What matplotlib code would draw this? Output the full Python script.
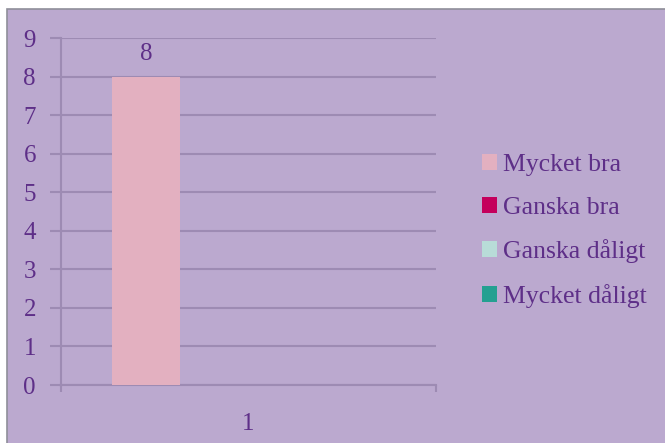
import matplotlib
matplotlib.use("Agg")
import matplotlib.pyplot as plt
from matplotlib.patches import Rectangle, Patch

# data
categories = ["1"]
series = ["Mycket bra", "Ganska bra", "Ganska dåligt", "Mycket dåligt"]
values = [8, 0, 0, 0]
colors = ["#e3b0c0", "#c4005c", "#b8dcd8", "#24a091"]

bg = "#bba9cf"
txt = "#5e2f88"
grid = "#9d8bb3"

plt.rcParams["font.family"] = ["Liberation Serif", "DejaVu Serif"]

fig = plt.figure(figsize=(6.65, 4.43), dpi=100)
fig.patch.set_facecolor("white")
# chart area, runs off the right and bottom edge
fig.add_artist(Rectangle((7 / 665, -0.05), 1.1, 1.05 - 9 / 443, transform=fig.transFigure,
                         facecolor=bg, edgecolor="#8f8f99", linewidth=1.2, zorder=0))

ax = fig.add_axes([61 / 665, 1 - 385 / 443, 375 / 665, (385 - 38) / 443])
ax.set_facecolor("none")

n = len(series)
w = 1 / (n + 1.5)
for i, (s, v, c) in enumerate(zip(series, values, colors)):
    x = 0.5 + 0.75 * w + i * w + w / 2
    ax.bar(x, v, width=w, color=c, label=s, zorder=3)
    if v > 0:
        ax.text(x, v + 0.3, str(v), ha="center", va="bottom", fontsize=18, color=txt)

ax.set_xlim(0.5, 1.5)
ax.set_ylim(0, 9)
ax.set_yticks(range(0, 10))
ax.yaxis.grid(True, color=grid, linewidth=1.5, zorder=1)
ax.set_xticks([1])
ax.set_xticklabels(categories)
ax.set_xticks([0.5, 1.5], minor=True)
ax.tick_params(axis="x", which="major", length=0, labelsize=18, labelcolor=txt, pad=20)
ax.tick_params(axis="x", which="minor", length=5, width=1.5, color=grid)
ax.tick_params(axis="y", length=8, width=1.5, color=grid, labelsize=18, labelcolor=txt, pad=10)
for sp in ["top", "right"]:
    ax.spines[sp].set_visible(False)
for sp in ["left", "bottom"]:
    ax.spines[sp].set_color(grid)
    ax.spines[sp].set_linewidth(1.5)

handles = [Patch(facecolor=c, label=s) for s, c in zip(series, colors)]
leg = fig.legend(handles=handles, loc="upper left", bbox_to_anchor=(472 / 665, 1 - 144 / 443),
                 frameon=False, fontsize=18.5, handlelength=0.56, handleheight=0.56,
                 handletextpad=0.25, labelspacing=0.8, borderaxespad=0)
for t in leg.get_texts():
    t.set_color(txt)

fig.savefig("out.png", dpi=100)
